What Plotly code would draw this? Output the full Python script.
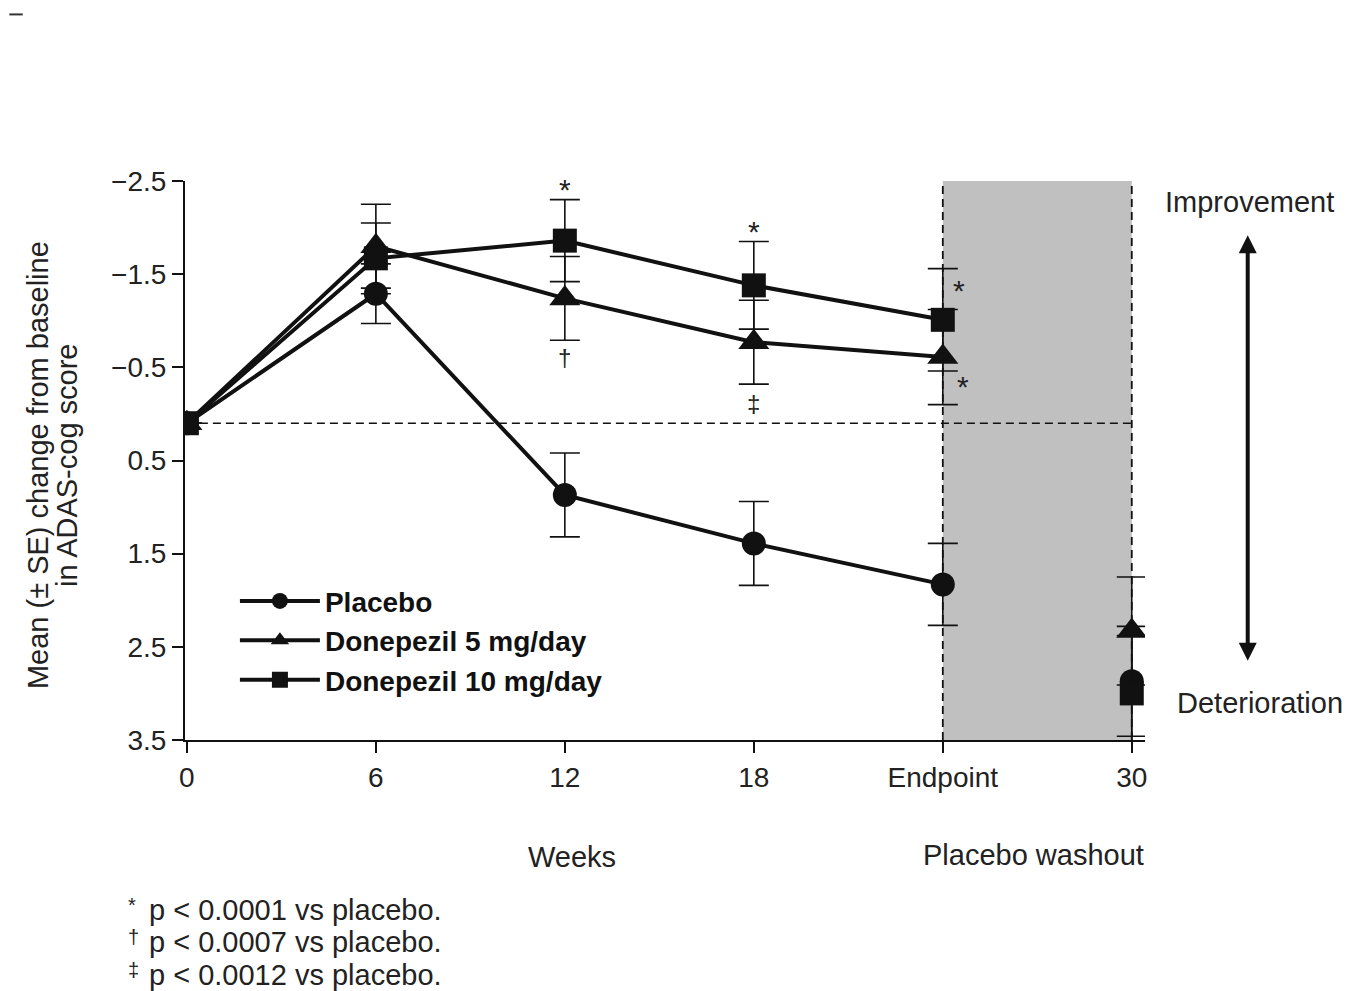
import plotly.graph_objects as go

# ---------------- data ----------------
categories = ["0", "6", "12", "18", "Endpoint", "30"]
treat_cats = categories[:5]
washout_cat = categories[5:]

placebo = [0.1, -1.29, 0.87, 1.39, 1.83]
placebo_se = [0.0, 0.32, 0.45, 0.45, 0.44]
d5 = [0.1, -1.80, -1.24, -0.77, -0.61]
d5_se = [0.0, 0.45, 0.45, 0.45, 0.51]
d10 = [0.1, -1.67, -1.86, -1.38, -1.01]
d10_se = [0.0, 0.38, 0.44, 0.47, 0.55]

placebo_wash = [2.87]
placebo_wash_se = [0.59]
d5_wash = [2.33]
d5_wash_se = [0.58]
d10_wash = [3.00]
d10_wash_se = [0.62]

baseline_ref = 0.1
y_ticks = [-2.5, -1.5, -0.5, 0.5, 1.5, 2.5, 3.5]
y_ticklabels = ["\u22122.5", "\u22121.5", "\u22120.5", "0.5", "1.5", "2.5", "3.5"]

FONT = "Liberation Sans, Arial, sans-serif"
INK = "#111111"
TXT = "#222222"

series = [
    ("Placebo", placebo, placebo_se, placebo_wash, placebo_wash_se, "circle", 24),
    ("Donepezil 5 mg/day", d5, d5_se, d5_wash, d5_wash_se, "triangle-up", 27),
    ("Donepezil 10 mg/day", d10, d10_se, d10_wash, d10_wash_se, "square", 24),
]

fig = go.Figure()
for name, vals, se, wv, wse, sym, sz in series:
    fig.add_trace(go.Scatter(
        x=treat_cats, y=vals, name=name, mode="lines+markers",
        line=dict(color=INK, width=4),
        marker=dict(symbol=sym, size=sz, color=INK),
        error_y=dict(type="data", array=se, color=INK, thickness=1.6, width=15),
    ))
    fig.add_trace(go.Scatter(
        x=washout_cat, y=wv, name=name, mode="markers", showlegend=False,
        marker=dict(symbol=sym, size=sz, color=INK),
        error_y=dict(type="data", array=wse, color=INK, thickness=1.6, width=15),
    ))

# shaded washout region and dashed lines
fig.add_shape(type="rect", xref="x", yref="y", x0=4, x1=5, y0=3.5, y1=-2.5,
              fillcolor="#c0c0c0", line=dict(width=0), layer="below")
for xv in (4, 5):
    fig.add_shape(type="line", xref="x", yref="y", x0=xv, x1=xv, y0=3.5, y1=-2.5,
                  line=dict(color=INK, width=1.8, dash="8px,5px"), layer="below")
fig.add_shape(type="line", xref="x", yref="y", x0=0, x1=5, y0=baseline_ref, y1=baseline_ref,
              line=dict(color=INK, width=1.5, dash="8px,5px"), layer="below")

# significance marks tied to data
def mark(text, xi, yv, xshift=0, yshift=0, size=30):
    fig.add_annotation(x=xi, y=yv, xref="x", yref="y", text=text, showarrow=False,
                       font=dict(family=FONT, size=size, color=TXT),
                       xanchor="center", yanchor="middle",
                       xshift=xshift, yshift=yshift)

mark("*", 2, d10[2] - d10_se[2], yshift=10)
mark("\u2020", 2, d5[2] + d5_se[2], yshift=-17, size=24)
mark("*", 3, d10[3] - d10_se[3], yshift=10)
mark("\u2021", 3, d5[3] + d5_se[3], yshift=-19, size=24)
mark("*", 4, d10[4] - d10_se[4], xshift=16, yshift=-22)
mark("*", 4, d5[4] + d5_se[4] / 2, xshift=20, yshift=-6)

# improvement / deterioration arrow
fig.add_annotation(xref="paper", yref="y", x=1.107, y=2.65, ax=0, ay=-427,
                   axref="pixel", ayref="pixel", text="", showarrow=True,
                   arrowhead=2, arrowside="end+start", arrowwidth=4, arrowsize=0.9,
                   arrowcolor=INK)
big = dict(family=FONT, size=29, color=TXT)
fig.add_annotation(xref="paper", yref="y", x=1.109, y=-2.27, text="Improvement",
                   showarrow=False, font=big, xanchor="center", yanchor="middle")
fig.add_annotation(xref="paper", yref="y", x=1.031, y=3.1, text="Deterioration",
                   showarrow=False, font=big, xanchor="left", yanchor="middle")

# axis titles as text
fig.add_annotation(xref="paper", yref="paper", x=0.403, y=-0.209, text="Weeks",
                   showarrow=False, font=big, xanchor="center", yanchor="middle")
fig.add_annotation(xref="paper", yref="paper", x=0.884, y=-0.206, text="Placebo washout",
                   showarrow=False, font=big, xanchor="center", yanchor="middle")
fig.add_annotation(xref="paper", yref="paper", x=-0.153, y=0.492,
                   text="Mean (\u00b1 SE) change from baseline", textangle=-90,
                   showarrow=False, font=big, xanchor="center", yanchor="middle")
fig.add_annotation(xref="paper", yref="paper", x=-0.123, y=0.492,
                   text="in ADAS-cog score", textangle=-90,
                   showarrow=False, font=big, xanchor="center", yanchor="middle")

# footnotes
notes = [("*", "p < 0.0001 vs placebo."), ("\u2020", "p < 0.0007 vs placebo."),
         ("\u2021", "p < 0.0012 vs placebo.")]
for i, (sym, txt) in enumerate(notes):
    yy = -0.304 - 0.058 * i
    fig.add_annotation(xref="paper", yref="paper", x=-0.061, y=yy,
                       text=sym, showarrow=False,
                       font=dict(family=FONT, size=20, color=TXT),
                       xanchor="left", yanchor="middle", yshift=5)
    fig.add_annotation(xref="paper", yref="paper", x=-0.040, y=yy,
                       text=txt, showarrow=False, font=big,
                       xanchor="left", yanchor="middle")

# top-left artifact dash
fig.add_shape(type="line", xref="paper", yref="paper", x0=-0.183, x1=-0.169,
              y0=1.298, y1=1.298, line=dict(color="#333", width=2))

fig.update_layout(
    width=1349, height=991,
    margin=dict(l=185, r=204, t=181, b=251),
    paper_bgcolor="white", plot_bgcolor="white",
    font=dict(family=FONT, size=28, color=TXT),
    showlegend=True,
    legend=dict(x=0.052, y=0.293, xanchor="left", yanchor="top",
                bgcolor="rgba(0,0,0,0)", itemwidth=80,
                font=dict(family=FONT, size=28, color=INK, weight="bold"),
                itemsizing="trace", tracegroupgap=0),
    xaxis=dict(type="category", categoryorder="array", categoryarray=categories,
               range=[-0.01, 5.07], showline=True, linecolor=INK, linewidth=2,
               ticks="outside", ticklen=11, tickwidth=2, tickcolor=INK,
               tickfont=dict(family=FONT, size=28, color=TXT),
               showgrid=False, zeroline=False),
    yaxis=dict(range=[3.5, -2.5], tickmode="array", tickvals=y_ticks,
               ticktext=y_ticklabels, showline=True, linecolor=INK, linewidth=2,
               ticks="outside", ticklen=11, tickwidth=2, tickcolor=INK,
               tickfont=dict(family=FONT, size=28, color=TXT),
               showgrid=False, zeroline=False),
)

fig.write_html("out.html", config={"displayModeBar": False},
               post_script="document.body.style.margin='0';")
